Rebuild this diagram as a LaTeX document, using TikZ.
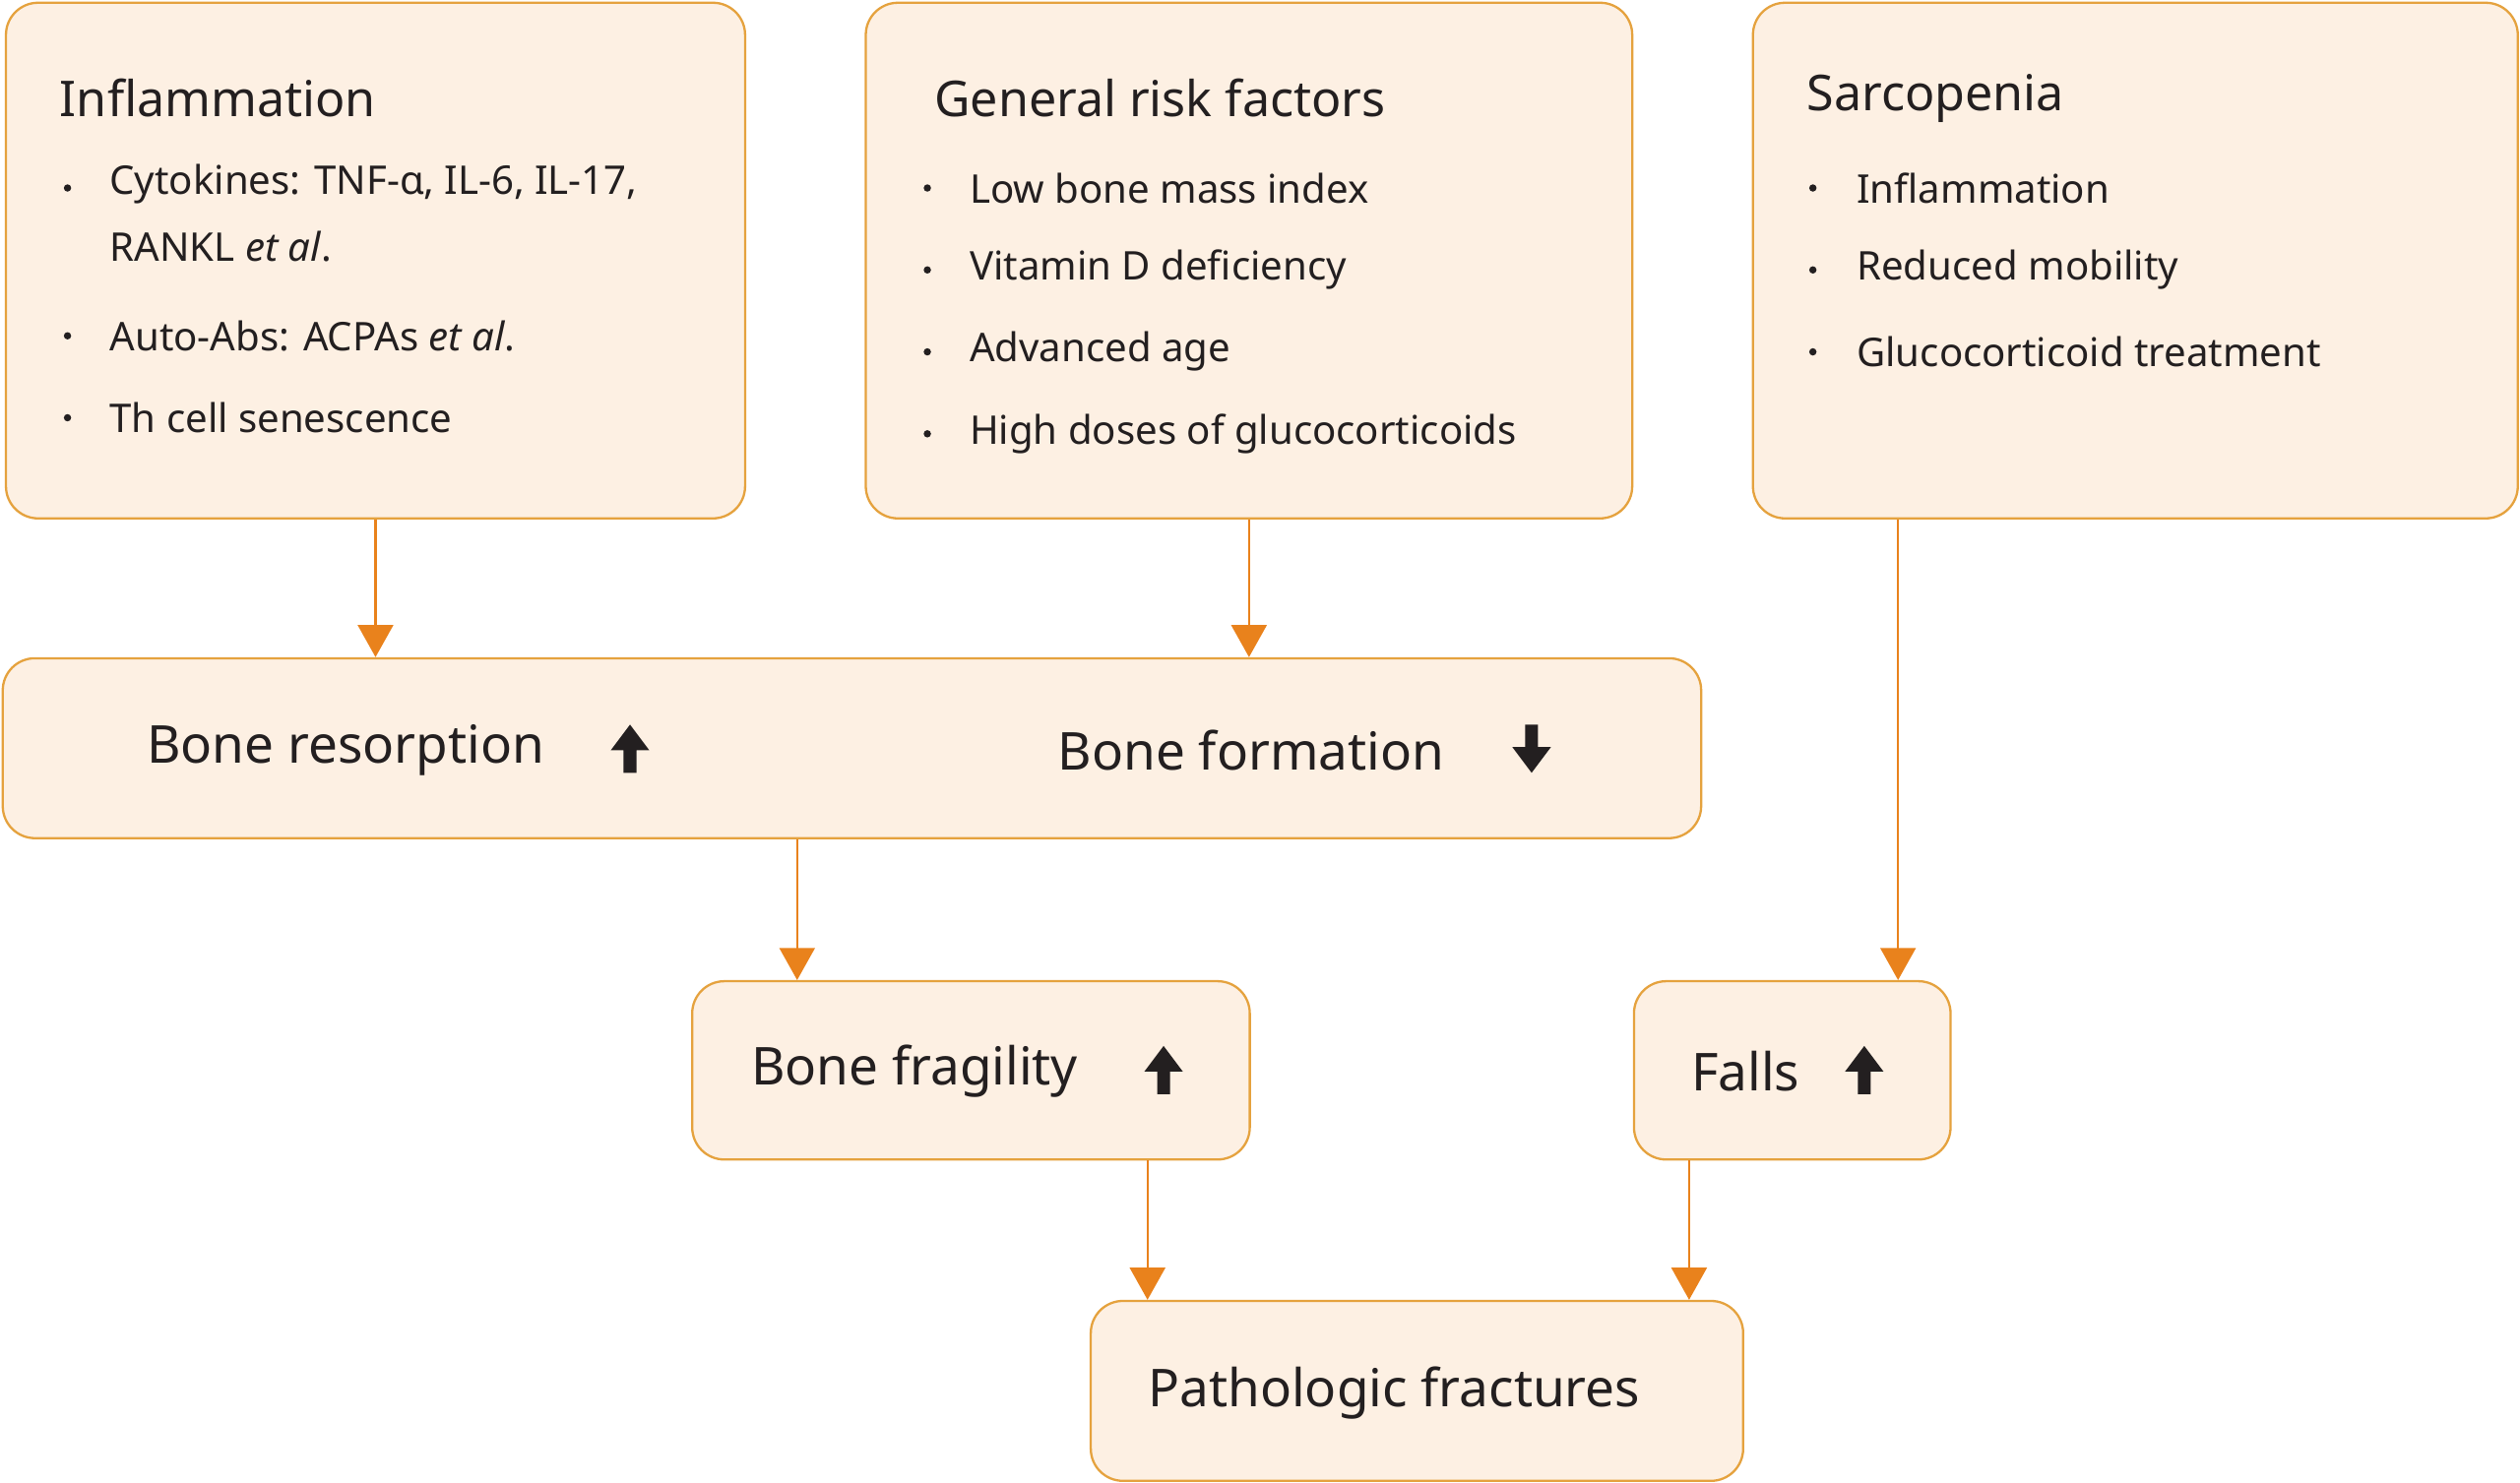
\documentclass[tikz,border=0pt]{standalone}
\usepackage{fontspec}
\setmainfont{Noto Sans}
\usetikzlibrary{arrows.meta}
\definecolor{boxfill}{HTML}{FDF0E3}
\definecolor{boxline}{HTML}{E5A23E}
\definecolor{arr}{HTML}{E9821C}
\definecolor{txt}{HTML}{231F20}
\begin{document}
\begin{tikzpicture}[x=0.02cm,y=-0.02cm,
  box/.style={draw=boxline,fill=boxfill,line width=0.8pt,rounded corners=0.4cm,anchor=north west,inner sep=0pt},
  ttl/.style={anchor=west,font=\fontsize{17.5}{20}\selectfont\bfseries,text=txt,inner sep=0pt},
  big/.style={anchor=west,font=\fontsize{18.5}{22}\selectfont\bfseries,text=txt,inner sep=0pt},
  itm/.style={anchor=west,font=\fontsize{14}{23.5}\selectfont,text=txt,inner sep=0pt,align=left},
  dot/.style={circle,fill=txt,inner sep=0pt,minimum size=2.6pt},
  conn/.style={draw=arr,line width=0.8pt,-{Triangle[width=0.44cm,length=0.4cm]}}]
\useasboundingbox (0,0) rectangle (1568,923);
% boxes
\node[box,minimum width=9.2cm,minimum height=6.42cm] (infl) at (3,1) {};
\node[box,minimum width=9.54cm,minimum height=6.42cm] (gen) at (538,1) {};
\node[box,minimum width=9.52cm,minimum height=6.42cm] (sarc) at (1090,1) {};
\node[box,minimum width=21.14cm,minimum height=2.24cm] (bone) at (1,409) {};
\node[box,minimum width=6.94cm,minimum height=2.22cm] (frag) at (430,610) {};
\node[box,minimum width=3.94cm,minimum height=2.22cm] (falls) at (1016,610) {};
\node[box,minimum width=8.12cm,minimum height=2.24cm] (path) at (678,809) {};
% Inflammation
\node[ttl] (t1) at (37,61) {Inflammation};
\node[dot] (d11) at (42,117) {}; \node[itm,anchor=north west] (i11) at (68,102) {Cytokines: TNF-α, IL-6, IL-17,\\RANKL \textit{et al}.};
\node[dot] (d12) at (42,209) {}; \node[itm] (i12) at (68,209) {Auto-Abs: ACPAs \textit{et al}.};
\node[dot] (d13) at (42,260) {}; \node[itm] (i13) at (68,260) {Th cell senescence};
% General
\node[ttl] (t2) at (581,61) {General risk factors};
\node[dot] (d21) at (577,117) {}; \node[itm] (i21) at (603,117) {Low bone mass index};
\node[dot] (d22) at (577,168) {}; \node[itm] (i22) at (603,168) {Vitamin D deficiency};
\node[dot] (d23) at (577,219) {}; \node[itm] (i23) at (603,219) {Advanced age};
\node[dot] (d24) at (577,270) {}; \node[itm] (i24) at (603,270) {High doses of glucocorticoids};
% Sarcopenia
\node[ttl] (t3) at (1124,61) {Sarcopenia};
\node[dot] (d31) at (1128,117) {}; \node[itm] (i31) at (1155,117) {Inflammation};
\node[dot] (d32) at (1128,168) {}; \node[itm] (i32) at (1155,168) {Reduced mobility};
\node[dot] (d33) at (1128,219) {}; \node[itm] (i33) at (1155,219) {Glucocorticoid treatment};
% big labels
\node[big] (br) at (91,467) {Bone resorption};
\node[big] (bf) at (658,467) {Bone formation};
\node[big] (bfr) at (467,667) {Bone fragility};
\node[big] (fl) at (1052,667) {Falls};
\node[big] (pf) at (714,867) {Pathologic fractures};
% thick arrows
\def\upA#1#2{\fill[txt] ($(#1,#2)+(-4,14)$) -- ++(0,-14) -- ++(-8,0) -- ++(12,-16) -- ++(12,16) -- ++(-8,0) -- ++(0,14) -- cycle;}
\usetikzlibrary{calc}
\fill[txt] (388,481) -- (388,467) -- (380,467) -- (392,451) -- (404,467) -- (396,467) -- (396,481) -- cycle;
\fill[txt] (720,681) -- (720,667) -- (712,667) -- (724,651) -- (736,667) -- (728,667) -- (728,681) -- cycle;
\fill[txt] (1156,681) -- (1156,667) -- (1148,667) -- (1160,651) -- (1172,667) -- (1164,667) -- (1164,681) -- cycle;
\fill[txt] (949,451) -- (949,465) -- (941,465) -- (953,481) -- (965,465) -- (957,465) -- (957,451) -- cycle;
% connectors
\draw[conn] (infl.south) -- (infl.south |- bone.north);
\draw[conn] (gen.south) -- (gen.south |- bone.north);
\draw[conn] (sarc.south -| 1181,0) -- (falls.north -| 1181,0);
\draw[conn] (bone.south -| 496,0) -- (frag.north -| 496,0);
\draw[conn] (frag.south -| 714,0) -- (path.north -| 714,0);
\draw[conn] (falls.south -| 1051,0) -- (path.north -| 1051,0);
\end{tikzpicture}
\end{document}
